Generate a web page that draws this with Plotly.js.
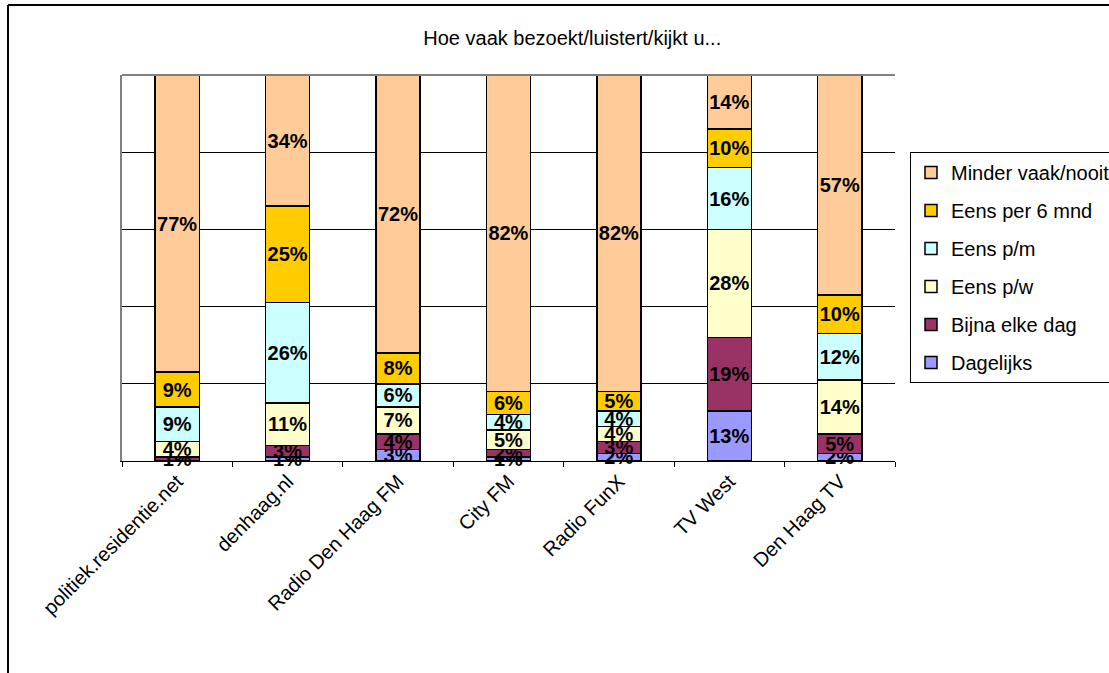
<!DOCTYPE html>
<html><head><meta charset="utf-8">
<script src="https://cdn.plot.ly/plotly-3.0.1.min.js"></script>
<style>html,body{margin:0;padding:0;background:#fff;}#chart{width:1109px;height:673px;}</style>
</head><body><div id="chart"></div>
<script>
const categories = ["politiek.residentie.net","denhaag.nl","Radio Den Haag FM","City FM","Radio FunX","TV West","Den Haag TV"];
const seriesNames = ["Dagelijks","Bijna elke dag","Eens p/w","Eens p/m","Eens per 6 mnd","Minder vaak/nooit"];
const dagelijks = [0,1,3,1,2,13,2];
const bijnaElkeDag = [1,3,4,2,3,19,5];
const eensPW = [4,11,7,5,4,28,14];
const eensPM = [9,26,6,4,4,16,12];
const eensPer6Mnd = [9,25,8,6,5,10,10];
const minderVaak = [77,34,72,82,82,14,57];
const colors = ["#9999FF","#993366","#FFFFCC","#CCFFFF","#FFCC00","#FFCC99"];
const allValues = [dagelijks,bijnaElkeDag,eensPW,eensPM,eensPer6Mnd,minderVaak];

const FONT = "Liberation Sans, Arial, sans-serif";
const traces = allValues.map((vals,i)=>({
  type:"bar", name:seriesNames[i], x:categories, y:vals,
  legendgroup:"g"+i, legendrank: 10 - i,
  marker:{color:colors[i], line:{color:"#000", width:1.5}},
  text: vals.map(v=> v>0 ? v+"%" : ""),
  textposition:"inside", insidetextanchor:"middle", textangle:0,
  textfont:{family:FONT, size:20, color:"#000", weight:"bold"},
  hoverinfo:"none", cliponaxis:false
}));

const L=122, R=895, T=75, B=461, W=R-L, H=B-T;
const px=(x)=>(x-L)/W, py=(y)=>(B-y)/H;

const layout = {
  width:1109, height:673,
  margin:{l:L, r:1109-R, t:T, b:673-B},
  barmode:"stack", bargap:0.6,
  paper_bgcolor:"#fff", plot_bgcolor:"#fff",
  font:{family:FONT, color:"#000"},
  title:{text:"Hoe vaak bezoekt/luistert/kijkt u...", x:0.516, xanchor:"center", y:0.944, yanchor:"middle", font:{size:20, color:"#000"}},
  uniformtext:{mode:"show", minsize:20},
  xaxis:{tickangle:-45, tickfont:{size:20}, showline:true, linecolor:"#000", linewidth:1, automargin:false,
         ticks:"outside", tickson:"boundaries", ticklen:5, tickcolor:"#000", showgrid:false, fixedrange:true},
  yaxis:{range:[0,100], tickvals:[20,40,60,80], showticklabels:false, showgrid:true, gridcolor:"#000", gridwidth:1,
         showline:true, linecolor:"#808080", linewidth:2, ticks:"", zeroline:false, fixedrange:true, automargin:false},
  legend:{xref:"container", yref:"container", x:910/1109, xanchor:"left", y:1-152/673, yanchor:"top", tracegroupgap:9,
          bordercolor:"#000", borderwidth:1, bgcolor:"#fff", font:{size:20, color:"#000"}},
  shapes:[
    {type:"line", xref:"paper", yref:"paper", x0:0, x1:1, y0:1, y1:1, line:{color:"#808080", width:2}},
    {type:"line", xref:"paper", yref:"paper", x0:px(8), x1:px(1109), y0:py(5), y1:py(5), line:{color:"#000", width:2}},
    {type:"line", xref:"paper", yref:"paper", x0:px(8), x1:px(8), y0:py(5), y1:py(673), line:{color:"#000", width:2}}
  ],
  showlegend:true
};
Plotly.newPlot("chart", traces, layout, {displayModeBar:false, staticPlot:true});
</script></body></html>
